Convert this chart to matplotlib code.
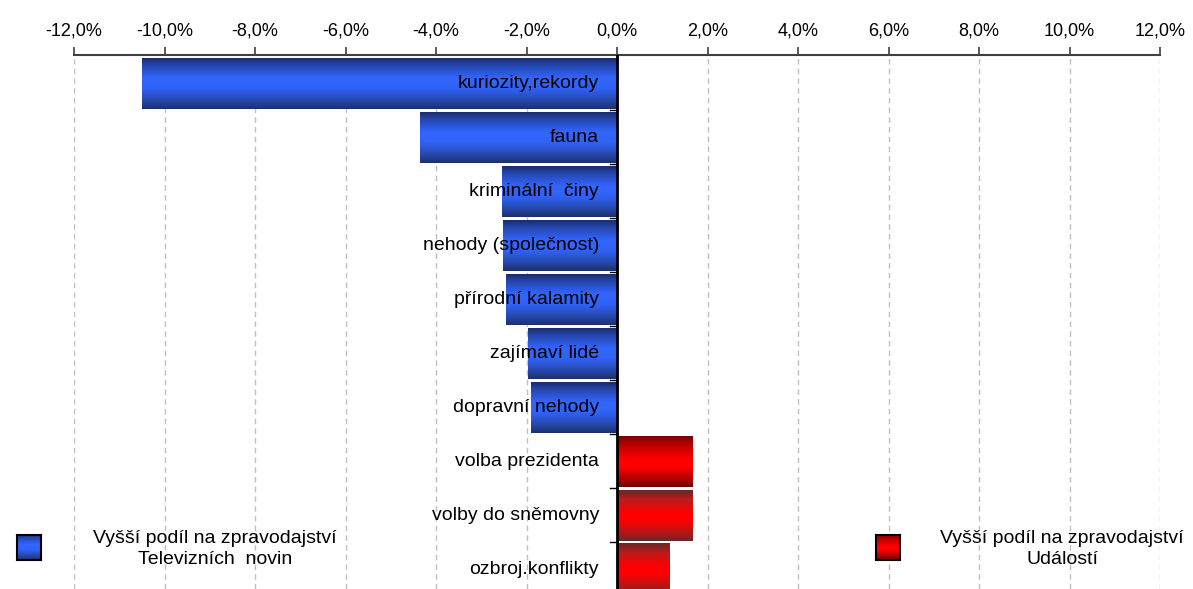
import numpy as np
import matplotlib
matplotlib.use("Agg")
import matplotlib.pyplot as plt
from matplotlib.colors import LinearSegmentedColormap
from matplotlib.ticker import FuncFormatter, MultipleLocator

plt.rcParams['font.family'] = ['Liberation Sans', 'DejaVu Sans']

categories = ["kuriozity,rekordy", "fauna", "kriminální  činy", "nehody (společnost)",
              "přírodní kalamity", "zajímaví lidé", "dopravní nehody",
              "volba prezidenta", "volby do sněmovny", "ozbroj.konflikty"]
values = [-10.5, -4.35, -2.54, -2.52, -2.45, -1.97, -1.90, 1.66, 1.66, 1.17]
legend_left = "Vyšší podíl na zpravodajství\nTelevizních  novin"
legend_right = "Vyšší podíl na zpravodajství\nUdálostí"

W, H = 1193, 589
fig = plt.figure(figsize=(W / 100, H / 100), dpi=100)
ax = fig.add_axes([74 / W, 0, (1160 - 74) / W, (589 - 55) / H])

blue_cmap = LinearSegmentedColormap.from_list(
    "b", [(0, "#1b2c6e"), (0.15, "#2547b0"), (0.4, "#3366ff"), (0.6, "#3062f5"),
          (0.85, "#2546a8"), (1, "#1d2f66")])
red_cmap1 = LinearSegmentedColormap.from_list(
    "r1", [(0, "#7a0000"), (0.2, "#c00000"), (0.45, "#ff0000"), (0.6, "#ff0000"),
           (0.85, "#b00000"), (1, "#6e0000")])
red_cmap2 = LinearSegmentedColormap.from_list(
    "r2", [(0, "#6b2626"), (0.2, "#c01a1a"), (0.45, "#ff0000"), (0.6, "#ff0000"),
           (0.85, "#b01818"), (1, "#6b2626")])

grad = np.linspace(0, 1, 256).reshape(-1, 1)
bh = 0.94
y = np.arange(len(categories))
bars = ax.barh(y, values, height=bh, color="none", edgecolor="none", zorder=2)
for i, (b, v) in enumerate(zip(bars, values)):
    x0 = min(0, v)
    x1 = max(0, v)
    if v < 0:
        cm = blue_cmap
    elif i == 7:
        cm = red_cmap1
    else:
        cm = red_cmap2
    ax.imshow(grad, cmap=cm, aspect="auto", extent=(x0, x1, i + bh / 2, i - bh / 2),
              zorder=2, interpolation="bilinear")

for i, c in enumerate(categories):
    ax.text(-0.4, i, c, ha="right", va="center", fontsize=14, color="black", zorder=4)

row_px = 54.0
top = -0.5 - 1.3 / row_px
ax.set_xlim(-12, 12)
ax.set_ylim(top + (589 - 55) / row_px, top)
ax.xaxis.set_major_locator(MultipleLocator(2))
ax.xaxis.set_major_formatter(FuncFormatter(lambda v, p: f"{v:.1f}%".replace(".", ",")))
ax.xaxis.tick_top()
ax.tick_params(axis="x", which="major", direction="out", length=6, width=1.2,
               color="#404040", labelsize=13, pad=5)
ax.grid(axis="x", color="#c0c0c0", linestyle=(0, (4, 3)), linewidth=1, zorder=0)
ax.set_yticks([])
for s in ["left", "right", "bottom"]:
    ax.spines[s].set_visible(False)
ax.spines["top"].set_color("#404040")
ax.spines["top"].set_linewidth(1.5)

ax.axvline(0, color="black", linewidth=2, zorder=3)
for k in range(1, len(categories)):
    ax.plot([-0.15, 0], [k - 0.5, k - 0.5], color="black", linewidth=1, zorder=3)

# legend
def legend_square(xp, yp, cm):
    axl = fig.add_axes([xp / W, 1 - (yp + 25) / H, 24 / W, 25 / H])
    axl.imshow(grad, cmap=cm, aspect="auto", extent=(0, 1, 1, 0), interpolation="bilinear")
    for s in axl.spines.values():
        s.set_color("black")
        s.set_linewidth(1.5)
    axl.set_xticks([])
    axl.set_yticks([])

legend_square(17, 535, blue_cmap)
legend_square(876, 535, red_cmap1)
fig.text(215 / W, 1 - 549 / H, legend_left, ha="center", va="center", fontsize=14,
         linespacing=1.38)
fig.text(1062 / W, 1 - 549 / H, legend_right, ha="center", va="center", fontsize=14,
         linespacing=1.38)

fig.savefig("out.png", dpi=100)
